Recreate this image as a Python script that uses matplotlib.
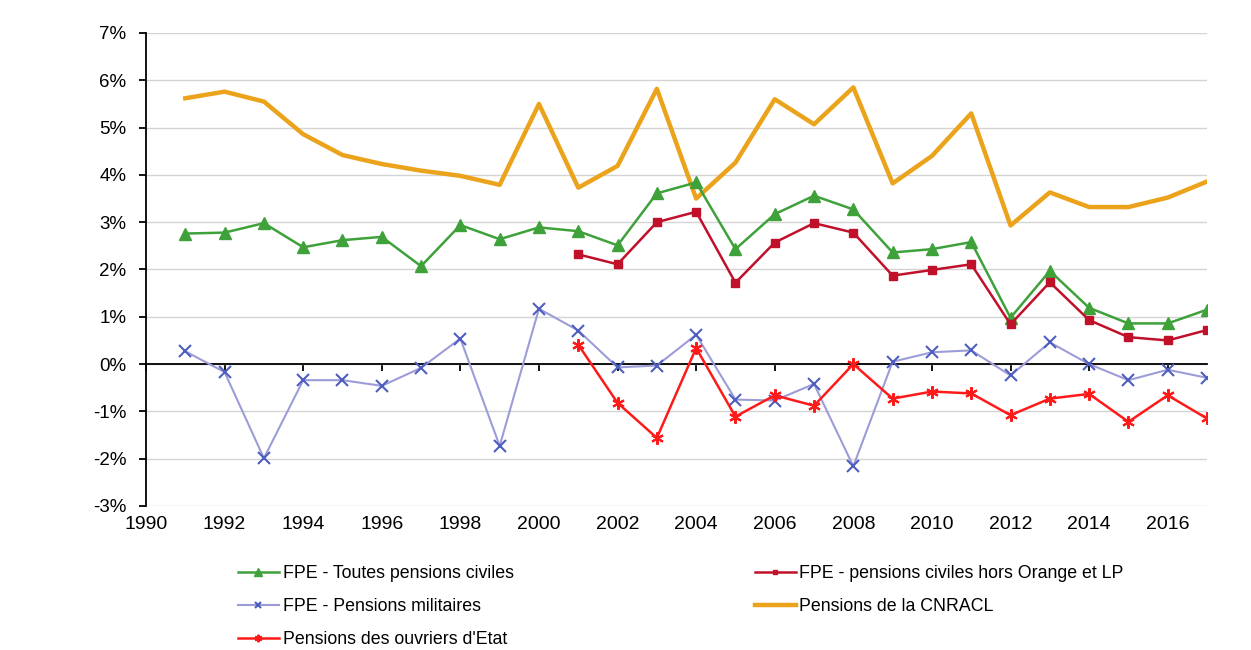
import matplotlib
matplotlib.use("Agg")
import matplotlib.pyplot as plt
from matplotlib.ticker import FuncFormatter, MultipleLocator

plt.rcParams['font.family'] = ['Liberation Sans', 'DejaVu Sans']

years_all = list(range(1991, 2018))
years_2001 = list(range(2001, 2018))

toutes_civiles = [2.76, 2.78, 2.98, 2.47, 2.62, 2.69, 2.07, 2.94, 2.64, 2.89,
                  2.81, 2.51, 3.61, 3.84, 2.43, 3.17, 3.56, 3.27, 2.36, 2.43,
                  2.58, 0.98, 1.97, 1.19, 0.86, 0.86, 1.15]
militaires = [0.27, -0.17, -1.99, -0.34, -0.34, -0.46, -0.08, 0.54, -1.73, 1.17,
              0.71, -0.07, -0.03, 0.62, -0.75, -0.77, -0.42, -2.16, 0.05, 0.25,
              0.29, -0.24, 0.46, 0.00, -0.34, -0.12, -0.29]
cnracl = [5.62, 5.76, 5.55, 4.86, 4.42, 4.23, 4.09, 3.98, 3.79, 5.50,
          3.73, 4.19, 5.82, 3.50, 4.26, 5.60, 5.07, 5.85, 3.82, 4.40,
          5.30, 2.93, 3.63, 3.32, 3.32, 3.52, 3.86]
hors_orange = [2.32, 2.11, 3.00, 3.22, 1.72, 2.57, 2.98, 2.78, 1.87, 1.99,
               2.11, 0.84, 1.73, 0.93, 0.57, 0.50, 0.72]
ouvriers = [0.41, -0.82, -1.56, 0.34, -1.11, -0.66, -0.88, 0.00, -0.73, -0.58,
            -0.62, -1.08, -0.73, -0.63, -1.22, -0.66, -1.15]

labels = ["FPE - Toutes pensions civiles",
          "FPE - pensions civiles hors Orange et LP",
          "FPE - Pensions militaires",
          "Pensions de la CNRACL",
          "Pensions des ouvriers d'Etat"]

fig = plt.figure(figsize=(12.51, 6.5), dpi=100)
ax = fig.add_axes([146/1251, 1-506/650, (1207-146)/1251, (506-33)/650])

h_green, = ax.plot(years_all, toutes_civiles, color='#3EA13A', lw=1.8,
                   marker='^', ms=8.5, zorder=4)
h_dred, = ax.plot(years_2001, hors_orange, color='#C0102A', lw=1.8,
                  marker='s', ms=6, zorder=4)
h_blue, = ax.plot(years_all, militaires, color='#9C9CD8', lw=1.5,
                  marker='x', ms=8, mec='#4F5FC0', mew=1.5, zorder=4)
h_orange, = ax.plot(years_all, cnracl, color='#EBA31B', lw=3.2, zorder=3)
h_red, = ax.plot(years_2001, ouvriers, color='#FF1A1A', lw=1.8,
                 marker=(6, 2, 0), ms=9, mew=1.5, zorder=4)

ax.set_xlim(1990, 2017)
ax.set_ylim(-3, 7)
ax.yaxis.set_major_locator(MultipleLocator(1))
ax.yaxis.set_major_formatter(FuncFormatter(lambda v, p: f"{int(round(v))}%"))
ax.yaxis.grid(True, color='#D4D4D4', lw=1)
ax.set_axisbelow(True)

for s in ['top', 'right']:
    ax.spines[s].set_visible(False)
ax.spines['left'].set_color('black')
ax.spines['left'].set_linewidth(1.3)
ax.spines['bottom'].set_position(('data', 0))
ax.spines['bottom'].set_color('black')
ax.spines['bottom'].set_linewidth(1.3)
ax.spines['bottom'].set_zorder(2)

ax.set_xticks(list(range(1990, 2017, 2)))
ax.tick_params(axis='x', direction='out', length=5, width=1.3, labelbottom=False)
ax.tick_params(axis='y', direction='out', length=5, width=1.3, labelsize=13.5, pad=9)

sec = ax.secondary_xaxis(0)
sec.set_xticks(list(range(1990, 2017, 2)))
sec.tick_params(length=0, labelsize=14, pad=7)
sec.spines['bottom'].set_visible(False)

fig.legend([h_green, h_blue, h_red, h_dred, h_orange],
           [labels[0], labels[2], labels[4], labels[1], labels[3]],
           ncol=2, loc='upper left', bbox_to_anchor=(222/1251, 1-549/650),
           frameon=False, fontsize=12.8, handlelength=2.3, handletextpad=0.22,
           columnspacing=13.55, labelspacing=0.9, markerscale=0.6)

fig.savefig("out.png", dpi=100)
